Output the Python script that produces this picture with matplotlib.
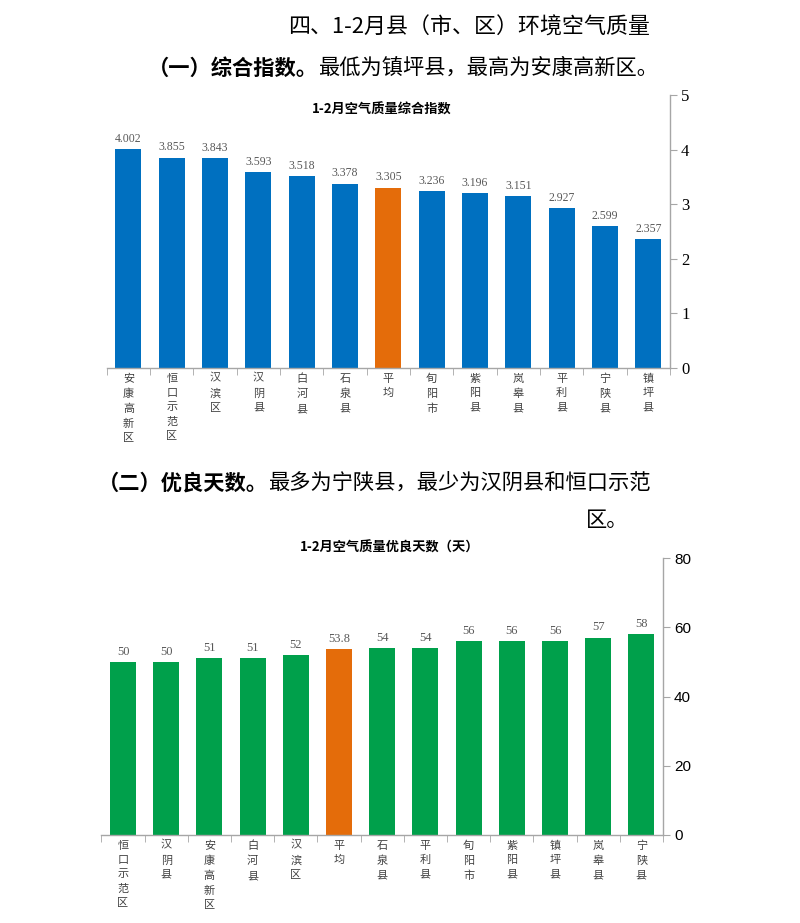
import matplotlib
matplotlib.use('Agg')
import matplotlib.pyplot as plt

plt.rcParams['font.family'] = ['Noto Sans CJK SC', 'DejaVu Sans']

# data - chart 1 : composite index
names1 = ['安康高新区', '恒口示范区', '汉滨区', '汉阴县', '白河县', '石泉县', '平均',
          '旬阳市', '紫阳县', '岚皋县', '平利县', '宁陕县', '镇坪县']
index1 = [4.002, 3.855, 3.843, 3.593, 3.518, 3.378, 3.305,
          3.236, 3.196, 3.151, 2.927, 2.599, 2.357]
# data - chart 2 : good air days
names2 = ['恒口示范区', '汉阴县', '安康高新区', '白河县', '汉滨区', '平均', '石泉县',
          '平利县', '旬阳市', '紫阳县', '镇坪县', '岚皋县', '宁陕县']
days2 = [50, 50, 51, 51, 52, 53.8, 54, 54, 56, 56, 56, 57, 58]
yticks1 = [0, 1, 2, 3, 4, 5]
yticks2 = [0, 20, 40, 60, 80]

W, H = 800, 923
BLUE = '#0070C0'
GREEN = '#00A04B'
ORANGE = '#E46C0A'
GRAY = '#A6A6A6'
LBL = '#595959'

fig = plt.figure(figsize=(W/100, H/100), dpi=100)
rend = fig.canvas.get_renderer()

def px(x, y):
    return x/W, 1-y/H

def ftxt(x, y, s, **kw):
    return fig.text(*px(x, y), s, **kw)

def two_part(x, y, bold, rest, size):
    # bold lead-in followed directly by the normal text
    t = ftxt(x, y, bold, fontsize=size, ha='left', va='center', weight='bold')
    bb = t.get_window_extent(rend)
    ftxt(bb.x1, y, rest, fontsize=size, ha='left', va='center')

# headings
ftxt(650, 28, '四、1-2月县（市、区）环境空气质量', fontsize=15.8, ha='right', va='center', color='black')
two_part(148, 68, '（一）综合指数。', '最低为镇坪县，最高为安康高新区。', 15.3)
two_part(98, 483, '（二）优良天数。', '最多为宁陕县，最少为汉阴县和恒口示范', 15.3)
ftxt(628, 520, '区。', fontsize=15.3, ha='right', va='center')

ftxt(382, 110, '1-2月空气质量综合指数', fontsize=9.5, ha='center', va='center', weight='bold')
ftxt(390, 548, '1-2月空气质量优良天数（天）', fontsize=9.5, ha='center', va='center', weight='bold')

def make_axes(rect, names, vals, ymax, yticks, color, tickfont, fmt, lblsize, ticksize):
    ax = fig.add_axes(rect)
    x = list(range(len(names)))
    cols = [ORANGE if n == '平均' else color for n in names]
    ax.bar(x, vals, width=0.6, color=cols, zorder=2)
    for i, v in enumerate(vals):
        ax.annotate(fmt(v), (i, v), xytext=(0, 3), textcoords='offset points',
                    ha='center', va='bottom', fontsize=lblsize, color=LBL,
                    family=['Liberation Serif', 'DejaVu Serif'])
    ax.set_xlim(-0.5, len(names)-0.5)
    ax.set_ylim(0, ymax)
    for s in ['left', 'top']:
        ax.spines[s].set_visible(False)
    for s in ['right', 'bottom']:
        ax.spines[s].set_color(GRAY)
        ax.spines[s].set_linewidth(1)
    ax.yaxis.tick_right()
    ax.set_yticks(yticks)
    ax.set_yticklabels([str(t) for t in yticks], fontsize=ticksize, family=tickfont)
    ax.tick_params(axis='y', direction='out', length=5, color=GRAY, pad=3)
    ax.set_xticks(x)
    ax.set_xticklabels(['\n'.join(n) for n in names], fontsize=8, color='#404040',
                       linespacing=1.55, va='top')
    ax.tick_params(axis='x', which='major', length=0, pad=4)
    ax.set_xticks([i - 0.5 for i in range(len(names)+1)], minor=True)
    ax.tick_params(axis='x', which='minor', direction='out', length=5, color=GRAY)
    return ax

ax1 = make_axes([106.8/W, 1-368/H, (670-106.8)/W, (368-95)/H], names1, index1, 5, yticks1,
                BLUE, ['Liberation Serif'], lambda v: '%.3f' % v, 8.5, 12)
ax2 = make_axes([101.4/W, 1-835/H, (663-101.4)/W, (835-558)/H], names2, days2, 80, yticks2,
                GREEN, ['Liberation Sans'], lambda v: ('%g' % v), 9, 11)

fig.savefig('out.png', dpi=100)
